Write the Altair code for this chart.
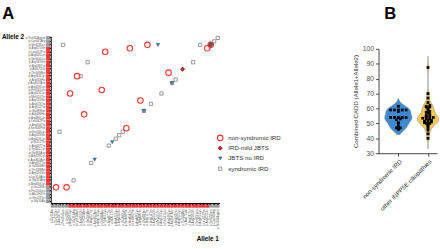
import altair as alt
import pandas as pd

FONT = "Liberation Sans"

# ---------------- Panel A data ----------------
variants = [
    "p.Gly11Ala", "p.Gln125Ter", "p.Ala190Thr", "p.Pro204Leu", "p.Leu285fs",
    "p.Arg300Cys", "p.Gly313Arg", "p.Lys314Asn", "p.Arg316Gln", "p.Thr339Met",
    "p.Val350Met", "p.Arg357Trp", "p.Asp362Asn", "p.Arg378Cys", "p.Gly384Asp",
    "p.Tyr401Cys", "p.Arg407Trp", "p.Ile412Thr", "p.Arg423Cys", "p.Arg435Gln",
    "p.Glu440Lys", "p.Ser446Phe", "p.Arg454Trp", "p.Leu462Pro", "p.Arg486Cys",
    "p.Arg486His", "p.Gly489Ser", "p.Arg512Trp", "p.Arg515Trp", "p.Arg515Gln",
    "p.Met520Thr", "p.Arg523Cys", "p.Pro531Leu", "p.Arg539Cys", "p.Asp547Asn",
    "p.Arg563His", "p.Arg563Cys", "p.Thr568Met", "p.Ala575Val", "p.Arg590Trp",
    "p.Arg592Gln", "p.Ser600Leu", "p.Arg605Cys", "p.Leu612Pro", "p.Arg621Gln",
    "p.Ser628Leu", "p.Cys641Arg", "p.Ter645Argext",
]
variant_domain = ["other"] * 5 + ["phosphatase"] * 40 + ["other"] * 3

ns_ird_a1 = [15, 22, 7, 5, 14, 9, 27, 44, 33, 25, 21, 1, 4, 45]
ns_ird_a2 = [43, 44, 36, 31, 32, 25, 45, 44, 37, 29, 21, 4, 4, 45]
mild_a1 = [37, 45]
mild_a2 = [38, 45]
jbts_a1 = [30, 34, 26, 17, 12, 45]
jbts_a2 = [45, 34, 26, 17, 12, 45]
synd_a1 = [3, 10, 8, 42, 46, 47, 40, 35, 34, 31, 28, 26, 2, 20, 19, 18, 16, 11, 6]
synd_a2 = [45, 40, 36, 45, 46, 47, 40, 35, 34, 31, 28, 26, 20, 20, 19, 18, 16, 11, 6]

legend_labels = ["non-syndromic IRD", "IRD-mild JBTS", "JBTS no IRD", "syndromic IRD"]

# ---------------- Panel B data ----------------
groups = ["non-syndromic IRD", "other INPP5E ciliopathies"]
cadd_ns_ird = [61.5, 59, 59, 59, 59, 59, 58, 54, 54, 54, 54, 54, 53, 52.5,
               50.5, 50, 48, 47, 47, 46]
cadd_other = [87.5, 70, 67, 64, 62, 61.5, 61, 61, 60, 59, 58, 57.5, 57, 56,
              55.5, 55, 54.5, 54, 54, 54, 53.5, 53, 53, 52, 52, 51.5, 51, 51,
              50.5, 50, 50, 49, 48, 47, 45.5, 43, 40]

# ---------------- Panel A ----------------
WA, HA = 173, 171

def pts(a1, a2):
    return pd.DataFrame({"a1": [variants[i] for i in a1],
                         "a2": [variants[i] for i in a2]})

X_A = alt.X("a1:N",
            scale=alt.Scale(domain=variants, paddingInner=0, paddingOuter=0),
            axis=alt.Axis(title=None, labelAngle=270, labelFontSize=3,
                          labelPadding=4.5, tickSize=1.5, tickColor="black",
                          domainColor="black", domainWidth=1, labelColor="#555",
                          labelOverlap=False, grid=False, zindex=1,
                          labelFont=FONT))
Y_A = alt.Y("a2:N",
            scale=alt.Scale(domain=list(reversed(variants)), paddingInner=0,
                            paddingOuter=0),
            axis=alt.Axis(title=None, labelFontSize=3, labelPadding=4.5,
                          tickSize=1.5, tickColor="black", domainColor="black",
                          domainWidth=1, labelColor="#555", labelOverlap=False,
                          grid=False, zindex=1, labelFont=FONT))

strip_df = pd.DataFrame({"a1": variants, "a2": variants, "dom": variant_domain})
strip_color = alt.Color("dom:N", scale=alt.Scale(domain=["other", "phosphatase"],
                                                 range=["#9a9a9a", "#ee3838"]),
                        legend=None)

strip_y = alt.Chart(strip_df).mark_rect().encode(
    y=Y_A, x=alt.value(-4.8), x2=alt.value(-0.5), color=strip_color)
strip_x = alt.Chart(strip_df).mark_rect().encode(
    x=X_A, y=alt.value(HA + 0.5), y2=alt.value(HA + 4.8), color=strip_color)

styles = {
    "non-syndromic IRD": dict(shape="circle", filled=False, color="#f0352e",
                              strokeWidth=1.1, size=32, opacity=1),
    "IRD-mild JBTS": dict(shape="diamond", filled=True, fill="#e3262a",
                          stroke="#4a0b0b", strokeWidth=0.7, size=18, opacity=1),
    "JBTS no IRD": dict(shape="triangle-down", filled=True, fill="#3f8fc6",
                        stroke="#1f3b50", strokeWidth=0.5, size=12, opacity=1),
    "syndromic IRD": dict(shape="square", filled=False, color="#8c8c8c",
                          strokeWidth=0.9, size=11, opacity=1),
}

layer_synd = alt.Chart(pts(synd_a1, synd_a2)).mark_point(**styles["syndromic IRD"]).encode(x=X_A, y=Y_A)
layer_ns = alt.Chart(pts(ns_ird_a1, ns_ird_a2)).mark_point(**styles["non-syndromic IRD"]).encode(x=X_A, y=Y_A)
layer_mild = alt.Chart(pts(mild_a1, mild_a2)).mark_point(**styles["IRD-mild JBTS"]).encode(x=X_A, y=Y_A)
layer_jbts = alt.Chart(pts(jbts_a1, jbts_a2)).mark_point(**styles["JBTS no IRD"]).encode(x=X_A, y=Y_A)

legend_layers = []
for i, lab in enumerate(legend_labels):
    d = pd.DataFrame({"label": [lab]})
    ly = 104.3 + i * 10.5
    legend_layers.append(alt.Chart(d).mark_point(**styles[lab]).encode(
        x=alt.value(173.7), y=alt.value(ly)))
    legend_layers.append(alt.Chart(d).mark_text(
        align="left", baseline="middle", fontSize=6.3, font=FONT,
        color="#333").encode(x=alt.value(182), y=alt.value(ly),
                             text="label:N"))

one = pd.DataFrame({"t": [0]})
txt_A = alt.Chart(one).mark_text(text="A", fontSize=17, fontWeight="bold",
                                 font=FONT, align="center", baseline="middle",
                                 color="black").encode(x=alt.value(-43.5), y=alt.value(-23))
txt_a2 = alt.Chart(one).mark_text(text="Allele 2", fontSize=6.5, fontWeight="bold",
                                  font=FONT, align="left", baseline="middle",
                                  color="black").encode(x=alt.value(-50), y=alt.value(1))
txt_a1 = alt.Chart(one).mark_text(text="Allele 1", fontSize=6.5, fontWeight="bold",
                                  font=FONT, align="center", baseline="middle",
                                  color="black").encode(x=alt.value(161), y=alt.value(207.5))

panelA = alt.layer(strip_y, strip_x, layer_synd, layer_ns, layer_mild, layer_jbts,
                   *legend_layers, txt_A, txt_a2, txt_a1).properties(width=WA, height=HA)

# ---------------- Panel B ----------------
# panel B shares the top edge of panel A (y=34); the axis range starts lower
WB, HB = 60, 120
rows = []
for g, gi, vals in [(groups[0], 1, cadd_ns_ird), (groups[1], 2, cadd_other)]:
    for v in vals:
        rows.append({"group": g, "gidx": gi, "value": v})
df_b = pd.DataFrame(rows)

XB_scale = alt.Scale(domain=[0.332, 2.306], nice=False, zero=False)
XB_axis = alt.Axis(title=None, values=[1, 2],
                   labelExpr="datum.value == 1 ? 'non-syndromic IRD' : 'other INPP5E ciliopathies'",
                   labelAngle=315, labelFontSize=6.3, labelColor="#333",
                   tickSize=3, tickColor="#444", domainColor="#444", grid=False,
                   labelFont=FONT, labelPadding=2)
YB = alt.Y("value:Q", scale=alt.Scale(domain=[30, 100], range=[HB, 13],
                                      nice=False, zero=False),
           axis=alt.Axis(values=list(range(30, 101, 10)),
                         title="Combined CADD (Allele1+Allele2)",
                         titleFontSize=6.3, titleFontWeight="normal",
                         titleColor="#333", labelFontSize=7, labelColor="#555",
                         tickSize=3, tickColor="#444", domainColor="#444",
                         grid=False, labelFont=FONT, titleFont=FONT,
                         labelPadding=2, titlePadding=4))


def violin(gname, gidx, extent, bw, halfw, color):
    return alt.Chart(df_b).transform_filter(
        alt.datum.group == gname
    ).transform_density(
        "value", as_=["value", "density"], extent=extent, bandwidth=bw, steps=120
    ).transform_joinaggregate(
        dmax="max(density)"
    ).transform_calculate(
        left=f"{gidx} - datum.density / datum.dmax * {halfw}",
        right=f"{gidx} + datum.density / datum.dmax * {halfw}",
    ).mark_area(orient="horizontal", color=color, stroke="#8a8a8a",
                strokeWidth=0.6, opacity=1).encode(
        y=YB, x=alt.X("left:Q", scale=XB_scale, axis=XB_axis), x2="right:Q")


vio1 = violin(groups[0], 1, [42.5, 66.5], 2.6, 0.46, "#3d8ad0")
vio2 = violin(groups[1], 2, [33, 95], 2.2, 0.36, "#f5c955")

dots = alt.Chart(df_b).transform_calculate(
    vb="round(datum.value)",
    sp="datum.gidx == 1 ? 0.13 : 0.12",
).transform_window(
    rk="row_number()", groupby=["group", "vb"], sort=[alt.SortField("value")]
).transform_joinaggregate(
    n="count()", groupby=["group", "vb"]
).transform_calculate(
    jx="datum.gidx + (datum.rk - (datum.n + 1) / 2) * datum.sp"
).mark_point(shape="square", filled=True, color="black", size=8, opacity=1).encode(
    y=YB, x=alt.X("jx:Q", scale=XB_scale, axis=XB_axis))

txt_B = alt.Chart(one).mark_text(text="B", fontSize=17, fontWeight="bold",
                                 font=FONT, align="center", baseline="middle",
                                 color="black").encode(x=alt.value(12), y=alt.value(-23))

panelB = alt.layer(vio1, vio2, dots, txt_B).properties(width=WB, height=HB)

chart = alt.hconcat(panelA, panelB, spacing=73).properties(
    padding={"left": 2, "top": 2, "right": 0, "bottom": 0}
).configure_view(stroke=None)

chart.save("out.html", embed_options={"renderer": "svg", "actions": False})
